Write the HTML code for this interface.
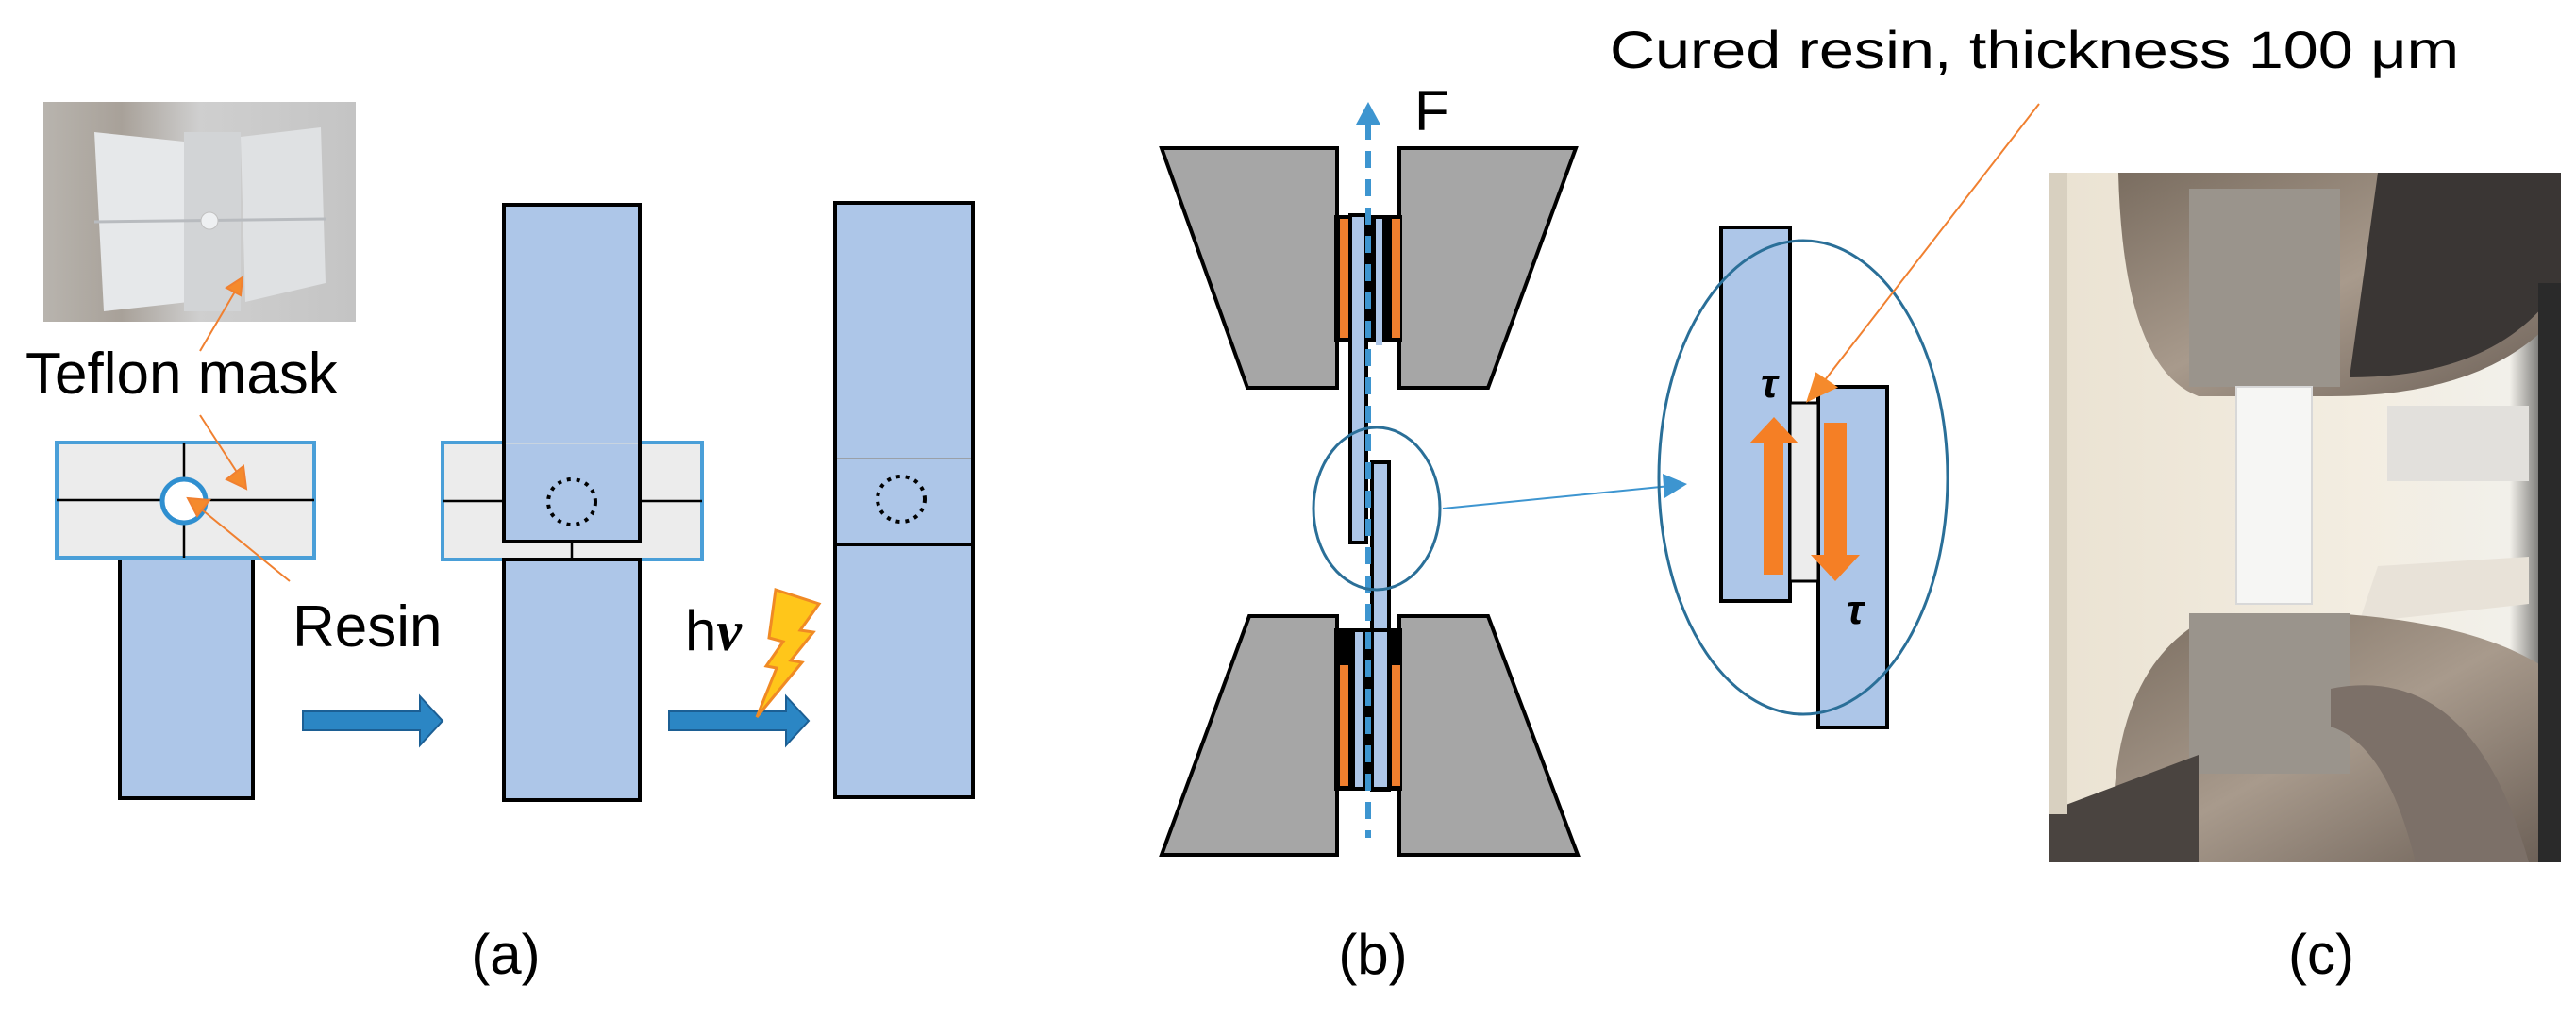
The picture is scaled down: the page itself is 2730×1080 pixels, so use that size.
<!DOCTYPE html>
<html><head><meta charset="utf-8"><style>
html,body{margin:0;padding:0;background:#fff;}
svg{display:block;}
text{font-family:"Liberation Sans",Arial,sans-serif;}
</style></head><body>
<svg width="2730" height="1080" viewBox="0 0 2730 1080" xmlns="http://www.w3.org/2000/svg">
<defs>
<linearGradient id="ph1" x1="0" y1="0" x2="1" y2="0">
<stop offset="0" stop-color="#b8b4ae"/><stop offset="0.25" stop-color="#a8a199"/><stop offset="0.5" stop-color="#cfcfcf"/><stop offset="1" stop-color="#c4c4c4"/>
</linearGradient>
<linearGradient id="bg3" x1="0" y1="0" x2="1" y2="0">
<stop offset="0" stop-color="#eae2d2"/><stop offset="0.6" stop-color="#f3ede1"/><stop offset="0.9" stop-color="#f2f0ea"/><stop offset="1" stop-color="#2a2a2a"/>
</linearGradient>
<linearGradient id="grip" x1="0" y1="0" x2="1" y2="1">
<stop offset="0" stop-color="#7a6d60"/><stop offset="0.5" stop-color="#a89a8c"/><stop offset="1" stop-color="#6a5e55"/>
</linearGradient>
</defs>

<!-- (a) photo inset -->
<rect x="46" y="108" width="331" height="233" fill="url(#ph1)"/>
<polygon points="100,140 195,150 200,320 110,330" fill="#e6e8ea"/>
<polygon points="255,145 340,135 345,300 260,320" fill="#dfe1e3"/>
<rect x="195" y="140" width="60" height="190" fill="#d2d4d6"/>
<line x1="100" y1="235" x2="345" y2="232" stroke="#b8bbbf" stroke-width="3"/>
<circle cx="222" cy="234" r="9" fill="#eef0f2" stroke="#c0c0c0"/>
<text x="27" y="417" font-size="62">Teflon mask</text>

<!-- left assembly -->
<rect x="127" y="591" width="141" height="255" fill="#adc6e8" stroke="#000" stroke-width="4"/>
<rect x="60" y="469" width="273" height="122" fill="#ececec" stroke="#4a9fd8" stroke-width="4"/>
<line x1="60" y1="530" x2="333" y2="530" stroke="#000" stroke-width="2.5"/>
<line x1="195" y1="469" x2="195" y2="591" stroke="#000" stroke-width="2.5"/>
<circle cx="195" cy="531" r="23" fill="#fff" stroke="#2f8fd0" stroke-width="5"/>
<g stroke="#f08030" stroke-width="2" fill="#f58a2c">
<line x1="212" y1="372" x2="252" y2="304"/>
<polygon points="257,294 240,305 255,313"/>
<line x1="212" y1="440" x2="254" y2="505"/>
<polygon points="261,518 240,508 258,494"/>
<line x1="307" y1="616" x2="210" y2="537"/>
<polygon points="199,528 222,530 209,547"/>
</g>
<text x="310" y="685" font-size="62">Resin</text>
<polygon points="321,754 445,754 445,738 469,764 445,790 445,774 321,774" fill="#2b86c4" stroke="#1c5f94" stroke-width="2"/>

<!-- middle assembly -->
<rect x="469" y="469" width="275" height="124" fill="#ececec" stroke="#4a9fd8" stroke-width="4"/>
<line x1="469" y1="531" x2="534" y2="531" stroke="#000" stroke-width="2.5"/>
<line x1="678" y1="531" x2="744" y2="531" stroke="#000" stroke-width="2.5"/>
<rect x="534" y="593" width="144" height="255" fill="#adc6e8" stroke="#000" stroke-width="4"/>
<rect x="534" y="217" width="144" height="357" fill="#adc6e8" stroke="#000" stroke-width="4"/>
<line x1="536" y1="470" x2="676" y2="470" stroke="#c8d4e0" stroke-width="2"/>
<line x1="606" y1="574" x2="606" y2="593" stroke="#000" stroke-width="2.5"/>
<ellipse cx="606" cy="532" rx="25" ry="24" fill="none" stroke="#000" stroke-width="4" stroke-dasharray="4 6"/>
<polygon points="709,754 833,754 833,738 857,764 833,790 833,774 709,774" fill="#2b86c4" stroke="#1c5f94" stroke-width="2"/>
<text x="726" y="689" font-size="60">h<tspan font-family="Liberation Serif,serif" font-style="italic" font-weight="bold">ν</tspan></text>
<polygon points="822,625 868,640 848,668 862,670 838,700 850,702 802,760 823,708 812,706 830,680 815,676" fill="#ffc61a" stroke="#f08a24" stroke-width="3"/>

<!-- right assembly -->
<rect x="885" y="215" width="146" height="630" fill="#adc6e8" stroke="#000" stroke-width="4"/>
<line x1="887" y1="486" x2="1029" y2="486" stroke="#9aa0a8" stroke-width="2"/>
<line x1="885" y1="577" x2="1031" y2="577" stroke="#000" stroke-width="4"/>
<ellipse cx="955" cy="529" rx="25" ry="24" fill="none" stroke="#000" stroke-width="4" stroke-dasharray="4 6"/>
<text x="536" y="1032" font-size="60" text-anchor="middle">(a)</text>

<!-- (b) grips -->
<g fill="#a6a6a6" stroke="#000" stroke-width="4">
<polygon points="1231,157 1417,157 1417,411 1322,411"/>
<polygon points="1483,157 1670,157 1577,411 1483,411"/>
<polygon points="1324,653 1417,653 1417,906 1231,906"/>
<polygon points="1483,653 1577,653 1672,906 1483,906"/>
</g>
<rect x="1414" y="228" width="72" height="134" fill="#000"/>
<rect x="1420" y="232" width="9" height="126" fill="#f07f2e"/>
<rect x="1475" y="232" width="9" height="126" fill="#f07f2e"/>
<rect x="1436" y="232" width="8" height="134" fill="#adc6e8"/>
<rect x="1458" y="232" width="7" height="134" fill="#adc6e8"/>
<rect x="1431" y="228" width="17" height="347" fill="#adc6e8" stroke="#000" stroke-width="4"/>
<rect x="1454" y="490" width="18" height="347" fill="#adc6e8" stroke="#000" stroke-width="4"/>
<rect x="1414" y="666" width="72" height="172" fill="#000"/>
<rect x="1420" y="705" width="9" height="128" fill="#f07f2e"/>
<rect x="1475" y="705" width="9" height="128" fill="#f07f2e"/>
<rect x="1436" y="670" width="8" height="164" fill="#adc6e8"/>
<rect x="1456" y="670" width="14" height="164" fill="#adc6e8"/>
<line x1="1450" y1="130" x2="1450" y2="888" stroke="#3d95d0" stroke-width="6" stroke-dasharray="18 12"/>
<polygon points="1450,108 1463,132 1437,132" fill="#3d95d0"/>
<text x="1499" y="138" font-size="60">F</text>
<ellipse cx="1459" cy="539" rx="67" ry="86" fill="none" stroke="#2a6f98" stroke-width="3"/>
<line x1="1529" y1="539" x2="1770" y2="515" stroke="#3d95d0" stroke-width="2"/>
<polygon points="1788,513 1762,502 1764,528" fill="#3d95d0"/>

<!-- zoomed detail -->
<rect x="1824" y="241" width="73" height="396" fill="#adc6e8" stroke="#000" stroke-width="4"/>
<rect x="1927" y="410" width="73" height="361" fill="#adc6e8" stroke="#000" stroke-width="4"/>
<rect x="1897" y="427" width="30" height="189" fill="#ececec" stroke="#000" stroke-width="3"/>
<polygon points="1869,609 1890,609 1890,470 1906,470 1880,442 1854,470 1869,470" fill="#f57f25"/>
<polygon points="1933,448 1957,448 1957,588 1971,588 1945,616 1919,588 1933,588" fill="#f57f25"/>
<text x="1866" y="421" font-size="44" font-family="Liberation Serif,serif" font-style="italic" font-weight="bold">τ</text>
<text x="1957" y="661" font-size="44" font-family="Liberation Serif,serif" font-style="italic" font-weight="bold">τ</text>
<ellipse cx="1911" cy="506" rx="153" ry="251" fill="none" stroke="#2a6f98" stroke-width="3"/>
<line x1="2161" y1="110" x2="1930" y2="408" stroke="#f08030" stroke-width="2"/>
<polygon points="1919,421 1942,410 1926,399" fill="#f58a2c" stroke="#f58a2c" stroke-width="6"/>
<text x="1706" y="72" font-size="56" textLength="900" lengthAdjust="spacingAndGlyphs">Cured resin, thickness 100 μm</text>
<text x="1455" y="1032" font-size="60" text-anchor="middle">(b)</text>

<!-- (c) photo -->
<rect x="2171" y="183" width="543" height="731" fill="url(#bg3)"/>
<path d="M2245,183 L2714,183 L2714,330 Q2640,420 2470,420 L2330,420 Q2250,390 2245,183 Z" fill="url(#grip)"/>
<path d="M2520,183 L2714,183 L2714,300 Q2650,400 2490,400 Z" fill="#3a3634"/>
<rect x="2320" y="200" width="160" height="210" fill="#9a948c"/>
<rect x="2370" y="410" width="80" height="230" fill="#f6f6f4" stroke="#d8d8d8" stroke-width="2"/>
<rect x="2530" y="430" width="150" height="80" fill="#e2e0dc"/>
<path d="M2520,600 L2680,590 L2680,640 L2500,660 Z" fill="#e8e2d8"/>
<path d="M2240,914 Q2230,720 2330,660 L2470,650 Q2640,660 2714,720 L2714,914 Z" fill="url(#grip)"/>
<rect x="2320" y="650" width="170" height="170" fill="#9a948c"/>
<path d="M2470,730 Q2620,700 2680,914 L2560,914 Q2530,790 2470,770 Z" fill="#7c7068"/>
<path d="M2171,860 L2330,800 L2330,914 L2171,914 Z" fill="#4a4440"/>
<rect x="2171" y="183" width="20" height="680" fill="#d8d0c0"/>
<rect x="2690" y="300" width="24" height="614" fill="#2a2a2a"/>
<text x="2460" y="1032" font-size="60" text-anchor="middle">(c)</text>
</svg>
</body></html>
